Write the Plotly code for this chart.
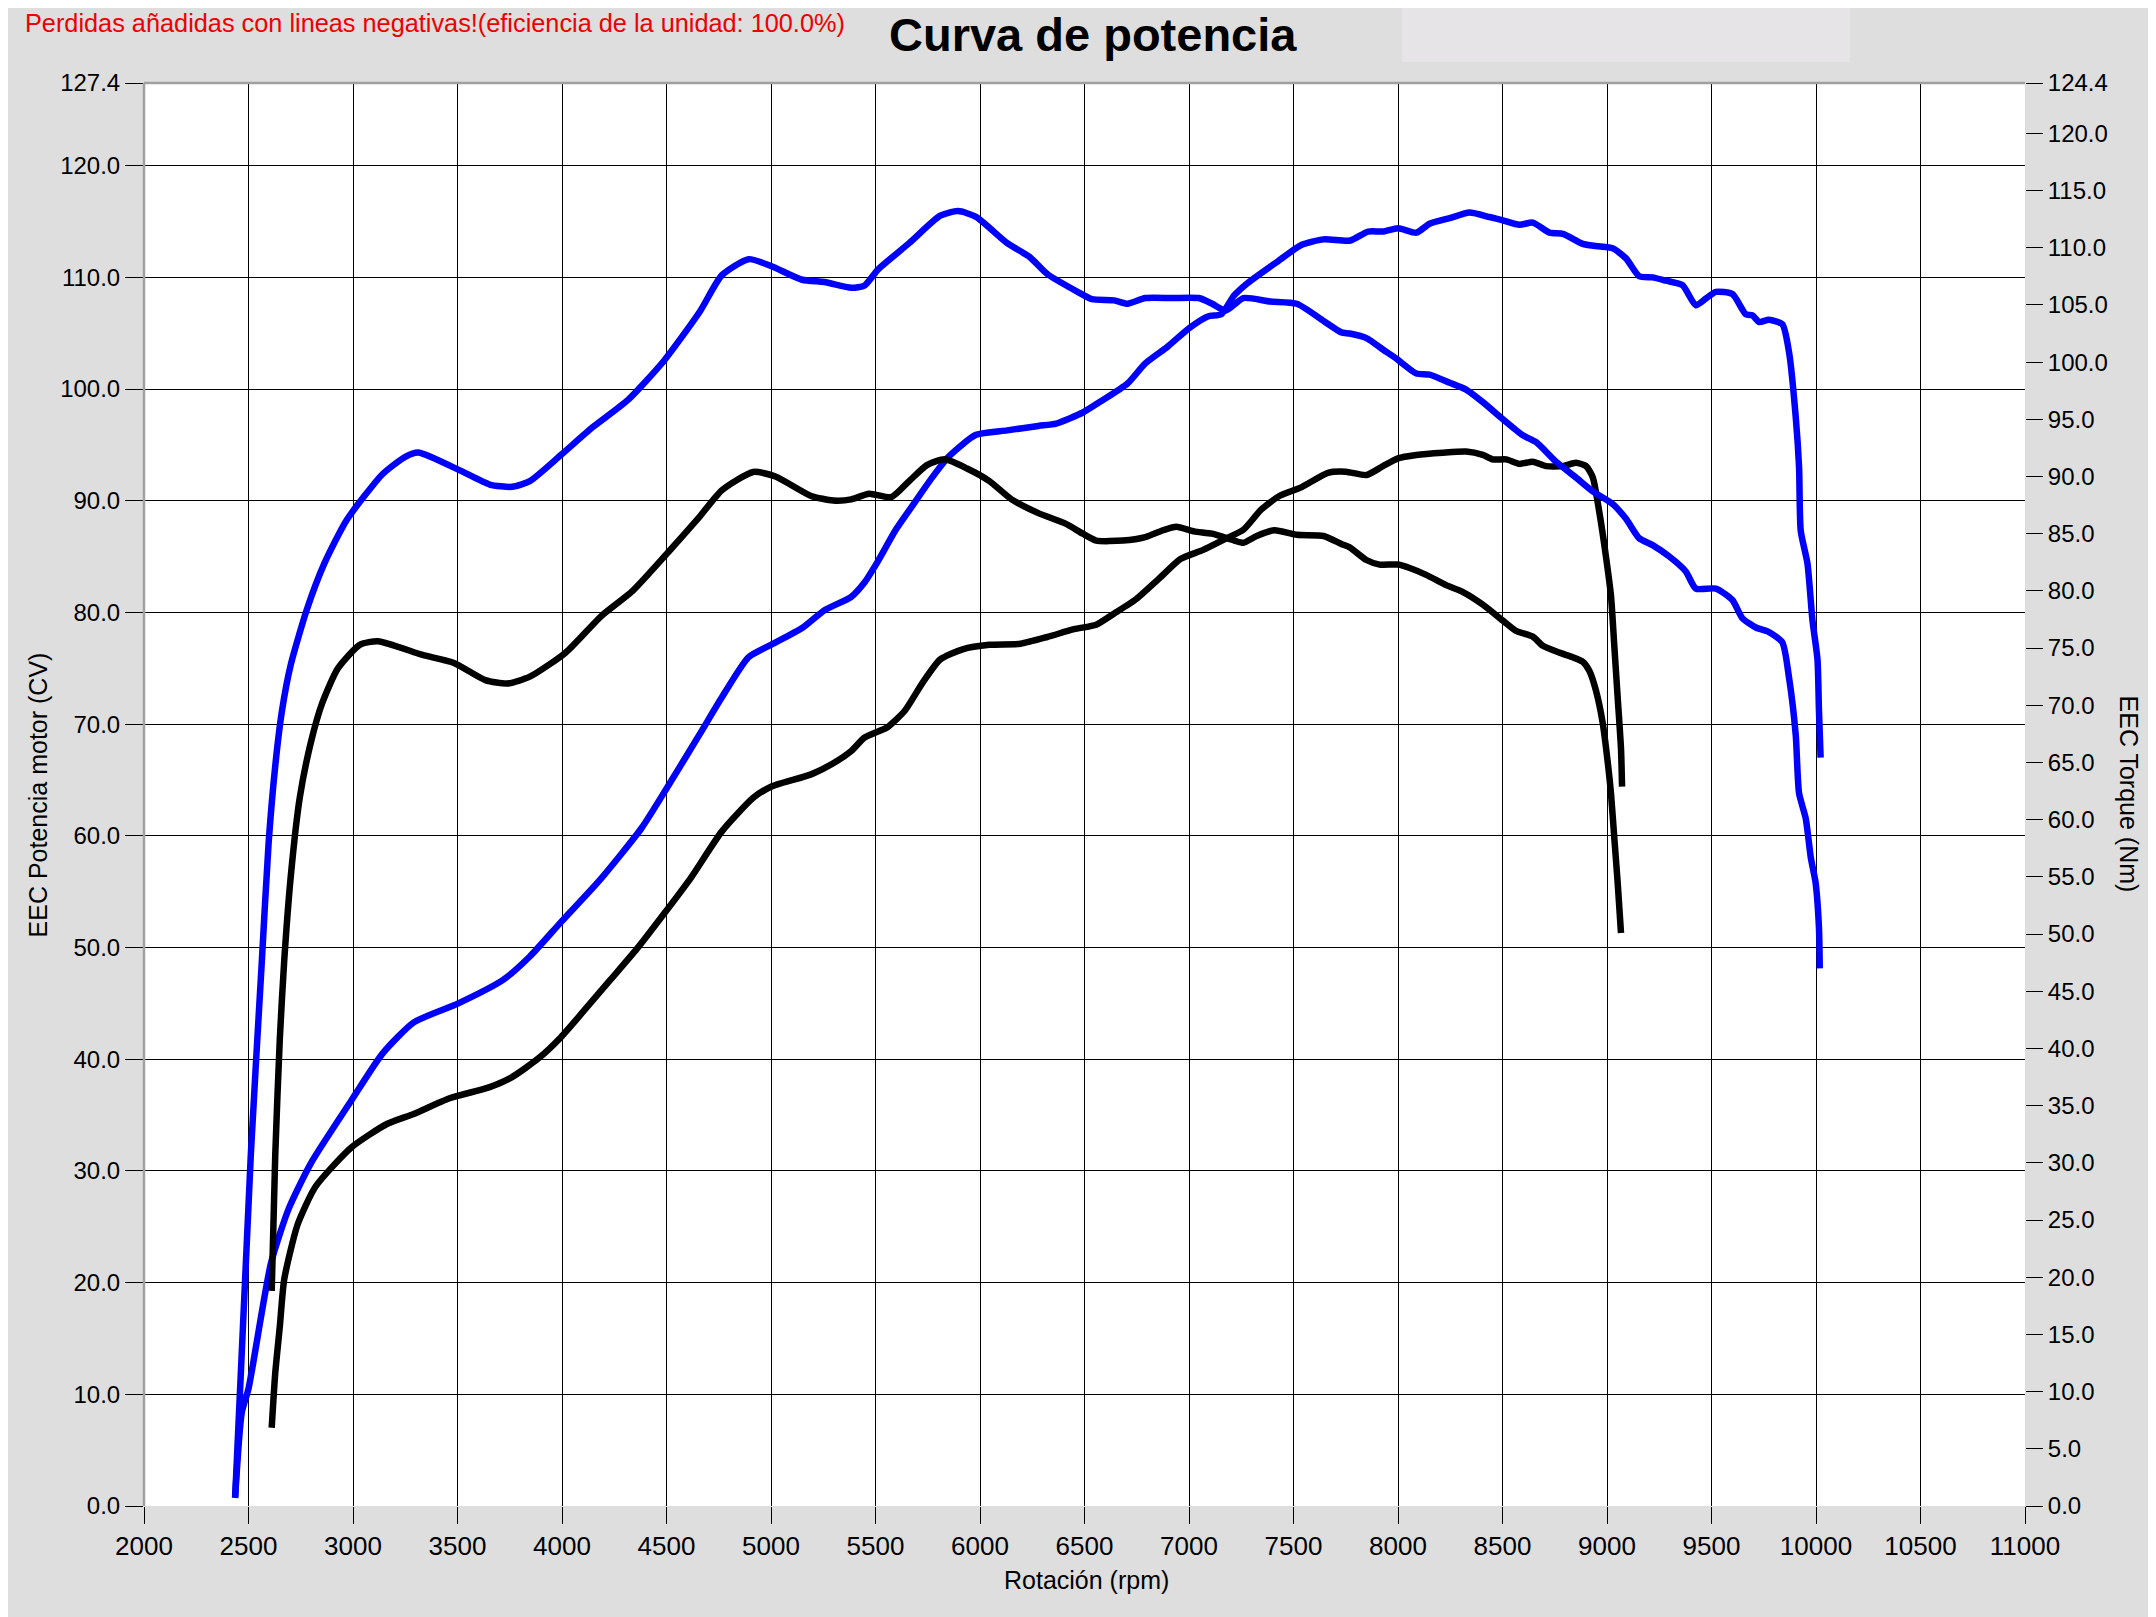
import plotly.graph_objects as go

# potencia azul (CV, eje izquierdo)
rpm_pot_azul = [2436, 2468, 2500, 2607, 2692, 2799, 2992, 3141, 3291, 3504, 3718, 3846, 3996, 4188, 4381,
                4509, 4659, 4765, 4893, 5000, 5149, 5256, 5384, 5448, 5512, 5597, 5682, 5768, 5853, 5981,
                6130, 6279, 6364, 6492, 6578, 6706, 6791, 6898, 7004, 7090, 7154, 7217, 7281, 7430, 7537,
                7644, 7772, 7857, 7928, 8000, 8088, 8151, 8247, 8342, 8438, 8502, 8581, 8645, 8725, 8789,
                8884, 8947, 9027, 9091, 9154, 9218, 9282, 9361, 9425, 9473, 9521, 9600, 9664, 9696, 9728,
                9775, 9839, 9871, 9903, 9919, 9927, 9959, 9983, 10007, 10014, 10022]
pot_azul = [0.8, 8.4, 10.5, 21.7, 26.6, 30.7, 36.3, 40.5, 43.3, 45.0, 47.1, 49.2, 52.3, 56.2, 60.7,
            64.5, 69.1, 72.4, 76.0, 77.1, 78.6, 80.2, 81.4, 82.7, 84.6, 87.4, 89.7, 92.0, 94.0, 95.9,
            96.3, 96.7, 96.9, 97.9, 98.9, 100.5, 102.3, 103.8, 105.5, 106.5, 106.7, 108.4, 109.5, 111.5, 112.9,
            113.4, 113.3, 114.1, 114.1, 114.4, 114.0, 114.8, 115.3, 115.8, 115.4, 115.1, 114.7, 114.9, 114.0, 113.9,
            113.0, 112.8, 112.6, 111.7, 110.1, 110.0, 109.7, 109.3, 107.5, 108.1, 108.7, 108.5, 106.7, 106.6, 106.0,
            106.2, 105.8, 103.3, 97.5, 93.0, 87.3, 84.4, 79.3, 75.8, 71.3, 67.0]

# par azul (Nm, eje derecho)
rpm_par_azul = [2436, 2511, 2564, 2596, 2628, 2660, 2703, 2778, 2863, 2970, 3141, 3248, 3312, 3504, 3654,
                3761, 3846, 3996, 4146, 4316, 4487, 4659, 4765, 4893, 5000, 5149, 5256, 5384, 5448, 5512,
                5661, 5810, 5895, 5981, 6130, 6237, 6322, 6471, 6535, 6642, 6706, 6791, 6919, 7047, 7111,
                7175, 7260, 7388, 7516, 7644, 7729, 7769, 7849, 7928, 7992, 8088, 8151, 8247, 8326, 8406,
                8502, 8597, 8661, 8756, 8852, 8932, 9027, 9091, 9154, 9218, 9298, 9377, 9425, 9521, 9600,
                9648, 9712, 9775, 9839, 9871, 9903, 9919, 9951, 9975, 9998, 10014, 10018]
par_azul = [0.7, 30.7, 47.7, 57.9, 64.7, 69.5, 73.6, 78.3, 82.4, 86.2, 90.2, 91.7, 92.1, 90.6, 89.3,
            89.1, 89.6, 91.9, 94.3, 96.7, 100.1, 104.4, 107.6, 109.0, 108.4, 107.2, 107.0, 106.5, 106.7, 108.1,
            110.4, 112.8, 113.2, 112.7, 110.4, 109.2, 107.7, 106.1, 105.5, 105.4, 105.1, 105.6, 105.6, 105.6, 105.1,
            104.5, 105.6, 105.3, 105.1, 103.6, 102.6, 102.5, 102.1, 101.1, 100.3, 99.0, 98.9, 98.2, 97.6, 96.5,
            95.0, 93.6, 93.0, 91.3, 89.9, 88.7, 87.6, 86.3, 84.6, 84.0, 83.0, 81.7, 80.2, 80.2, 79.2,
            77.6, 76.8, 76.4, 75.5, 72.4, 67.4, 62.3, 60.1, 56.7, 54.5, 50.6, 47.0]

# potencia negra (CV, eje izquierdo)
rpm_pot_negro = [2611, 2628, 2650, 2671, 2735, 2821, 2992, 3162, 3291, 3462, 3654, 3761, 3889, 3996, 4103,
                 4231, 4359, 4487, 4615, 4765, 4915, 5000, 5192, 5298, 5384, 5448, 5555, 5640, 5725, 5810,
                 5917, 6045, 6194, 6322, 6450, 6556, 6642, 6748, 6855, 6961, 7068, 7175, 7260, 7345, 7430,
                 7537, 7665, 7750, 7849, 7928, 8000, 8088, 8215, 8326, 8406, 8454, 8518, 8581, 8645, 8709,
                 8788, 8852, 8900, 8932, 8963, 8995, 9019, 9035, 9051, 9067, 9072]
pot_negro = [7.0, 11.9, 16.1, 20.3, 25.2, 28.6, 32.1, 34.2, 35.1, 36.5, 37.5, 38.4, 40.1, 42.0, 44.3,
             47.1, 49.9, 53.0, 56.2, 60.4, 63.4, 64.4, 65.5, 66.5, 67.6, 68.8, 69.7, 71.2, 73.7, 75.8,
             76.7, 77.1, 77.2, 77.8, 78.5, 78.9, 79.9, 81.2, 83.0, 84.8, 85.6, 86.6, 87.4, 89.2, 90.4,
             91.2, 92.5, 92.6, 92.3, 93.1, 93.8, 94.1, 94.3, 94.4, 94.1, 93.7, 93.7, 93.3, 93.5, 93.1,
             93.1, 93.4, 93.1, 92.1, 89.0, 85.0, 81.5, 77.0, 72.4, 67.8, 64.4]

# par negro (Nm, eje derecho)
rpm_par_negro = [2611, 2628, 2650, 2671, 2703, 2746, 2799, 2853, 2927, 3034, 3120, 3333, 3483, 3633, 3739,
                 3846, 4017, 4188, 4338, 4509, 4659, 4765, 4915, 5021, 5192, 5298, 5384, 5469, 5576, 5661,
                 5746, 5831, 5938, 6045, 6151, 6279, 6407, 6492, 6556, 6684, 6791, 6876, 6940, 7025, 7111,
                 7217, 7260, 7324, 7409, 7516, 7644, 7729, 7769, 7849, 7912, 8000, 8056, 8135, 8231, 8311,
                 8406, 8502, 8565, 8645, 8693, 8772, 8836, 8884, 8916, 8947, 8979, 9003, 9019, 9035, 9051, 9067]
par_negro = [18.8, 30.7, 40.9, 47.7, 55.2, 62.0, 66.8, 70.2, 73.2, 75.3, 75.6, 74.4, 73.7, 72.2, 71.9,
             72.5, 74.6, 77.8, 80.0, 83.4, 86.5, 88.8, 90.4, 90.0, 88.3, 87.9, 88.0, 88.5, 88.2, 89.6,
             91.0, 91.5, 90.7, 89.6, 88.0, 86.8, 85.9, 85.0, 84.4, 84.4, 84.7, 85.3, 85.6, 85.2, 85.0,
             84.4, 84.2, 84.8, 85.3, 84.9, 84.8, 84.1, 83.8, 82.7, 82.3, 82.3, 82.0, 81.4, 80.5, 79.9,
             78.8, 77.4, 76.5, 76.0, 75.2, 74.6, 74.2, 73.8, 73.0, 71.3, 68.5, 65.1, 62.3, 58.4, 54.5, 50.1]

x_ticks = list(range(2000, 11001, 500))
y_left_ticks = [0, 10, 20, 30, 40, 50, 60, 70, 80, 90, 100, 110, 120, 127.4]
y_right_ticks = [0, 5, 10, 15, 20, 25, 30, 35, 40, 45, 50, 55, 60, 65, 70, 75, 80, 85, 90, 95,
                 100, 105, 110, 115, 120, 124.4]

FONT = "Arial, Liberation Sans, sans-serif"
AZUL = "#0000ff"
NEGRO = "#000000"


def curva(x, y, color, eje):
    return go.Scatter(x=x, y=y, mode='lines', yaxis=eje,
                      line=dict(color=color, width=6.5, shape='spline', smoothing=0.6))


fig = go.Figure()
fig.add_trace(curva(rpm_pot_azul, pot_azul, AZUL, 'y'))
fig.add_trace(curva(rpm_par_azul, par_azul, AZUL, 'y2'))
fig.add_trace(curva(rpm_pot_negro, pot_negro, NEGRO, 'y'))
fig.add_trace(curva(rpm_par_negro, par_negro, NEGRO, 'y2'))

# la pagina lleva 8px de margen del navegador, se compensa en los margenes
fig.update_layout(
    width=2156, height=1617,
    margin=dict(l=136, r=139, t=75, b=119),
    paper_bgcolor="#dedede", plot_bgcolor="white",
    showlegend=False,
    font=dict(family=FONT, size=24, color="black"),
    xaxis=dict(range=[2000, 11000], tickvals=x_ticks, ticktext=[str(v) for v in x_ticks],
               tickfont=dict(size=26),
               showgrid=True, gridcolor="black", gridwidth=1, zeroline=False, showline=False,
               ticks="outside", ticklen=17, tickcolor="black", tickwidth=1),
    yaxis=dict(range=[0, 127.4], tickvals=y_left_ticks, ticktext=["%.1f" % v for v in y_left_ticks],
               showgrid=True, gridcolor="black", gridwidth=1, zeroline=False, showline=False,
               ticks="outside", ticklen=18, tickcolor="black", tickwidth=1),
    yaxis2=dict(range=[0, 124.4], tickvals=y_right_ticks, ticktext=["%.1f" % v for v in y_right_ticks],
                overlaying='y', side='right', showgrid=False, zeroline=False, showline=False,
                ticks="outside", ticklen=17, tickcolor="black", tickwidth=1),
)

# bordes grises del area de trazado
fig.add_shape(type="line", xref="paper", yref="paper", x0=0, x1=1, y0=1, y1=1,
              line=dict(color="#a0a0a0", width=2.5))
fig.add_shape(type="line", xref="paper", yref="paper", x0=0, x1=0, y0=0, y1=1,
              line=dict(color="#a0a0a0", width=2.5))
# recuadro claro junto al titulo
fig.add_shape(type="rect", xref="paper", yref="paper", x0=0.6688, x1=0.907, y0=1.0148, y1=1.0555,
              fillcolor="#e6e4e6", line=dict(width=0), layer="below")

fig.add_annotation(text="<b>Curva de potencia</b>", xref="paper", yref="paper", x=0.5045, y=1.0344,
                   showarrow=False, font=dict(size=47, color="black"), xanchor="center", yanchor="middle")
fig.add_annotation(text="Perdidas añadidas con lineas negativas!(eficiencia de la unidad: 100.0%)",
                   xref="paper", yref="paper", x=-0.0643, y=1.0422, showarrow=False,
                   font=dict(size=25.3, color="#ee0000"), xanchor="left", yanchor="middle")
fig.add_annotation(text="EEC Potencia motor (CV)", xref="paper", yref="paper", x=-0.0564, y=0.5,
                   textangle=-90, showarrow=False, font=dict(size=25), xanchor="center", yanchor="middle")
fig.add_annotation(text="EEC Torque (Nm)", xref="paper", yref="paper", x=1.0558, y=0.5,
                   textangle=90, showarrow=False, font=dict(size=25), xanchor="center", yanchor="middle")
fig.add_annotation(text="Rotación (rpm)", xref="paper", yref="paper", x=0.5008, y=-0.052,
                   showarrow=False, font=dict(size=25), xanchor="center", yanchor="middle")

fig.write_html("out.html")
